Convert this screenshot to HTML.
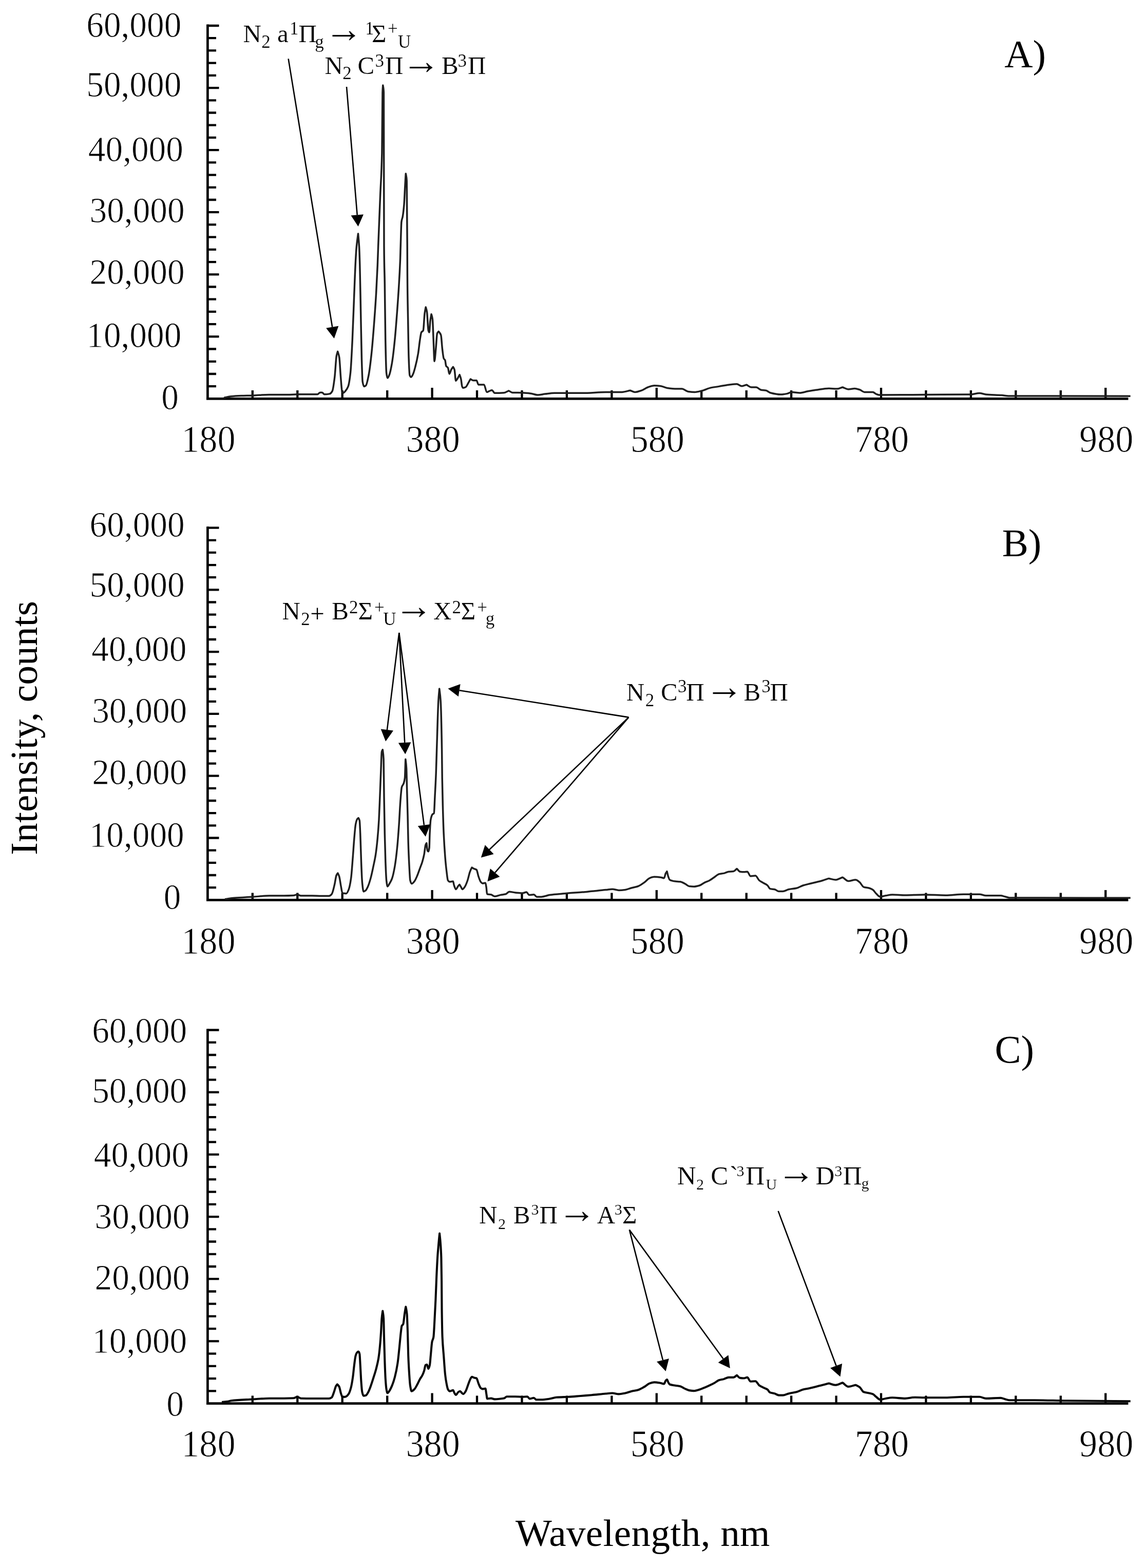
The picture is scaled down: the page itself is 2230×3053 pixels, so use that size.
<!DOCTYPE html>
<html lang="en"><head><meta charset="utf-8"><title>Emission spectra</title>
<style>html,body{margin:0;padding:0;background:#fff}svg{display:block}</style></head>
<body>
<svg width="2230" height="3053" viewBox="0 0 2230 3053" font-family='"Liberation Serif", "DejaVu Serif", serif' fill="#000">
<style>.t{stroke:#fff;stroke-width:0.9px;stroke-linejoin:round}.a{stroke:#fff;stroke-width:0.2px;stroke-linejoin:round}</style>
<rect width="2230" height="3053" fill="#fff"/>
<g id="panel-A">
<path d="M404.4,47.6V778.8M402,776.4H2197.4" stroke="#000" stroke-width="4.7" fill="none"/>
<path d="M404.4,50H426.5M404.4,74.2H421.0M404.4,98.4H421.0M404.4,122.6H421.0M404.4,146.9H421.0M404.4,171.1H426.5M404.4,195.3H421.0M404.4,219.5H421.0M404.4,243.7H421.0M404.4,267.9H421.0M404.4,292.1H426.5M404.4,316.3H421.0M404.4,340.6H421.0M404.4,364.8H421.0M404.4,389H421.0M404.4,413.2H426.5M404.4,437.4H421.0M404.4,461.6H421.0M404.4,485.8H421.0M404.4,510.1H421.0M404.4,534.3H426.5M404.4,558.5H421.0M404.4,582.7H421.0M404.4,606.9H421.0M404.4,631.1H421.0M404.4,655.3H426.5M404.4,679.5H421.0M404.4,703.8H421.0M404.4,728H421.0M404.4,752.2H421.0M491.8,776.4V760.1M579.3,776.4V760.1M666.7,776.4V760.1M754.2,776.4V760.1M841.6,776.4V754.9M929,776.4V760.1M1016.5,776.4V760.1M1103.9,776.4V760.1M1191.4,776.4V760.1M1278.8,776.4V754.9M1366.2,776.4V760.1M1453.7,776.4V760.1M1541.1,776.4V760.1M1628.6,776.4V760.1M1716,776.4V754.9M1803.4,776.4V760.1M1890.9,776.4V760.1M1978.3,776.4V760.1M2065.8,776.4V760.1M2153.2,776.4V754.9" stroke="#000" stroke-width="4.3" fill="none"/>
<path d="M436,774.5C440.7,773.6 445.3,772.2 450,771.8C456.7,771.2 463.3,770.9 470,770.6C477.3,770.3 484.7,770.3 492,770C502.7,769.6 513.3,768.4 524,768.4C536,768.4 548,768.6 560,768.6C566.3,768.6 572.7,767.8 579,767.8C586,767.8 593,767.8 600,767.8C606.1,767.8 612.1,767.8 618.2,767.8C620,767.8 621.8,764.2 623.6,764.2C624.8,764.2 626,764.2 627.2,764.2C628.7,764.2 630.3,767.8 631.8,767.8C635.1,767.8 638.5,767.5 641.8,766.9C643.6,766.6 645.4,764.6 647.2,761.5C648.7,758.8 650.3,746.4 651.8,734.2C653,724.7 654.2,698.8 655.4,692.5C656.2,688.5 656.9,686.6 657.7,684.3C658.7,687.6 659.8,689.9 660.8,696.1C661.7,701.7 662.7,723.2 663.6,734.2C664.5,744.8 665.4,760.2 666.3,762.4C666.9,763.9 667.5,765.1 668.1,765.1C669.6,765.1 671.1,763.1 672.6,761.5C674.4,759.5 676.3,757.3 678.1,752.4C679.6,748.4 681.1,738.8 682.6,725.2C683.8,714 685.1,686.8 686.3,661.6C687.5,637 688.7,600 689.9,570.8C690.8,548.9 691.7,523.5 692.6,507.2C693.2,496.3 693.8,486.5 694.4,480C695.4,468.8 696.5,462.1 697.5,455C698.2,462.1 698.8,468.2 699.5,480C699.9,487.7 700.4,501 700.8,516.3C701.4,537.5 702,576.8 702.6,607.1C703.2,637.4 703.8,677.7 704.4,697.9C705,718.1 705.6,739.6 706.2,743.3C707.1,749 708.1,752.4 709,752.4C710.2,752.4 711.4,751.6 712.6,750.6C714.4,749.1 716.2,739.6 718,730.6C719.8,721.5 721.7,705.7 723.5,688.8C725.3,672.2 727.1,649 728.9,625.3C730.1,609.1 731.4,592 732.6,570.8C733.5,555.3 734.4,537.8 735.3,516.3C735.7,506 736.2,491.5 736.6,480C737.9,444.5 739.3,413.2 740.6,380C741.7,352.6 742.8,347.5 743.9,298C744.3,281.5 744.6,190.6 745,180C745.3,172.3 745.5,170 745.8,166C746.3,170 746.9,169.3 747.4,180C747.6,184 747.8,457.7 748,480C748.4,528.3 748.9,524.5 749.3,552.6C749.8,582.9 750.2,638.6 750.7,661.6C751.3,691.2 751.9,719.9 752.5,725.2C753.2,731.7 754,736.1 754.7,736.1C755.8,736.1 756.9,733.2 758,730.6C759.8,726.4 761.6,717.3 763.4,707C765.2,696.5 767.1,679.7 768.9,661.6C770.4,646.8 771.9,627.1 773.4,607.1C774.6,590.7 775.9,573.6 777.1,552.6C777.9,539.5 778.6,527.2 779.4,507.2C779.7,500.2 779.9,488.3 780.2,480C780.8,462.3 781.3,436.5 781.9,432C782.7,425.7 783.5,426.1 784.3,421.5C785.2,416.3 786.1,409 787,398C787.6,390.3 788.3,372.9 788.9,361.6C789.4,353.3 789.8,344.7 790.3,338C790.9,342 791.6,342.3 792.2,352C792.5,357.1 792.9,416.9 793.2,480C793.3,492.6 793.3,525.8 793.4,534.5C793.8,590.8 794.3,599.5 794.7,625.3C795.2,653.1 795.6,685.1 796.1,697.9C796.7,714.4 797.3,729.1 797.9,730.6C798.8,733 799.8,734.2 800.7,734.2C801.9,734.2 803.1,731.2 804.3,728.8C805.8,725.8 807.3,720 808.8,714.3C810.6,707.4 812.5,699.5 814.3,688.8C815.5,681.8 816.7,669.1 817.9,661.6C818.8,656 819.7,648.7 820.6,647.1C821.8,644.9 823.1,645.8 824.3,643.4C825.2,641.7 826.1,617.8 827,610.8C827.7,605.1 828.5,601.6 829.2,598C830,600.6 830.7,602.5 831.5,607.1C832.4,612.7 833.4,640.3 834.3,643.4C834.9,645.4 835.5,647.1 836.1,647.1C836.7,647.1 837.3,630.3 837.9,625.3C838.6,619.2 839.4,615.6 840.1,611.7C840.9,614.5 841.6,615.9 842.4,621.6C843,626 843.6,648.3 844.2,661.6C844.8,675.6 845.5,703.4 846.1,703.4C847,703.4 847.9,688.7 848.8,679.8C849.7,670.9 850.6,651 851.5,648.9C852.4,646.8 853.3,646.3 854.2,645.3C855.7,647.3 857.3,648.1 858.8,652.5C859.7,655.1 860.6,672.5 861.5,679.8C862.4,687.1 863.3,695.9 864.2,697.9C865.1,699.9 866,699.5 866.9,701.5C867.5,702.9 868.2,711.2 868.8,712.4C870,714.7 871.2,714 872.4,716.1C873.3,717.6 874.2,727.9 875.1,727.9C876.3,727.9 877.6,721.9 878.8,719.7C880,717.6 881.2,715.8 882.4,714.3C883.3,715.8 884.2,716.8 885.1,719.7C886,722.6 886.9,741.5 887.8,741.5C888.7,741.5 889.7,739.3 890.6,737.9C892.1,735.7 893.6,732 895.1,729.7C896,732 896.9,734.1 897.8,737.9C898.5,741 899.3,750.5 900,752.4C900.6,753.9 901.2,755.3 901.8,755.3C903.6,755.3 905.4,754.5 907.2,753.5C908.7,752.6 910.3,748.8 911.8,746.2C913.3,743.7 914.8,740.4 916.3,738.1C918.1,738.9 920,740.8 921.8,740.8C923.9,740.8 926,740.8 928.1,740.8C929.3,740.8 930.6,748.9 931.8,748.9C935.4,748.9 939.1,748.9 942.7,748.9C944.5,748.9 946.3,763.5 948.1,763.5C949.6,763.5 951.1,762.3 952.6,761.7C954.4,761 956.3,759.8 958.1,759.8C959.9,759.8 961.7,765.3 963.5,765.3C969.6,765.3 975.6,765.1 981.7,764.7C984.7,764.5 987.8,761.9 990.8,760.8C993.2,761.8 995.6,764.3 998,764.4C1004.7,764.6 1011.3,764.5 1018,764.7C1023.5,764.8 1028.9,765.5 1034.4,766.2C1038.6,766.8 1042.9,768.9 1047.1,768.9C1051.9,768.9 1056.8,767.6 1061.6,767.1C1067.7,766.4 1073.7,765.3 1079.8,765.3C1087.7,765.3 1095.5,765.3 1103.4,765.3C1113.7,765.3 1123.9,765.3 1134.2,765.3C1149.5,765.3 1164.7,763.6 1180,763.5C1190.5,763.4 1201,763.5 1211.5,763.4C1216.7,763.4 1222,761.2 1227.2,760.3C1230.4,761.2 1233.5,763.4 1236.7,763.4C1240.9,763.4 1245,761.7 1249.2,760.3C1253.4,758.9 1257.6,755.4 1261.8,754C1266,752.6 1270.2,750.8 1274.4,750.8C1278.6,750.8 1282.8,751.3 1287,751.8C1291.2,752.3 1295.4,754.9 1299.6,755.5C1305.9,756.4 1312.2,757.1 1318.5,757.1C1321.6,757.1 1324.8,757.1 1327.9,757.1C1332.1,757.1 1336.3,762 1340.5,762.5C1344.7,763 1348.9,763.4 1353.1,763.4C1357.3,763.4 1361.5,762.1 1365.7,761.2C1372,759.8 1378.3,756.2 1384.6,754.9C1389.8,753.8 1395.1,753.3 1400.3,752.4C1406.6,751.4 1412.9,750 1419.2,749.2C1424.5,748.6 1429.7,747.7 1435,747.7C1438.1,747.7 1441.3,751.8 1444.4,751.8C1447.5,751.8 1450.7,749.9 1453.8,749.2C1457,750.6 1460.1,754 1463.3,754C1466.4,754 1469.6,754 1472.7,754C1475.9,754 1479,758.7 1482.2,759.3C1485.3,759.9 1488.5,759.8 1491.6,760.3C1494.8,760.9 1497.9,764.2 1501.1,765C1507.4,766.6 1513.7,768.1 1520,768.1C1524.2,768.1 1528.3,767.4 1532.5,766.6C1535.7,766 1538.8,763.4 1542,763.4C1547.2,763.4 1552.5,765 1557.7,765C1563,765 1568.2,762.7 1573.5,761.8C1578.7,760.9 1584,760 1589.2,759.3C1597.6,758.1 1606,756.2 1614.4,756.2C1619.6,756.2 1624.9,757.1 1630.1,757.1C1633.8,757.1 1637.4,754.9 1641.1,754C1644.8,755.2 1648.5,758.1 1652.2,758.1C1656.4,758.1 1660.5,756.5 1664.7,756.5C1667.9,756.5 1671,757.7 1674.2,758.7C1677.3,759.7 1680.5,763.4 1683.6,763.4C1689.1,763.4 1694.5,763.4 1700,763.4C1702,763.4 1704,766.1 1706,767C1708,767.9 1710,769 1712,769C1741.3,769 1770.7,768.7 1800,768.5C1830,768.3 1860,768.4 1890,768C1895.9,767.9 1901.8,765.5 1907.7,765.5C1911.8,765.5 1915.9,767.6 1920,768C1930.3,768.9 1940.7,768.8 1951,769.5C1955.3,769.8 1959.7,771 1964,771C2043.2,771.2 2122.4,771.1 2201.6,771.2" stroke="#1e1e1e" stroke-width="3.5" fill="none" stroke-linejoin="round" stroke-linecap="butt"/>
<text transform="translate(353.3,71.7) scale(1,1.05)" font-size="67.3" text-anchor="end" class="t">60,000</text>
<text transform="translate(353.3,188.3) scale(1,1.05)" font-size="67.3" text-anchor="end" class="t">50,000</text>
<text transform="translate(356.9,313.6) scale(1,1.05)" font-size="67.3" text-anchor="end" class="t">40,000</text>
<text transform="translate(359.6,432.7) scale(1,1.05)" font-size="67.3" text-anchor="end" class="t">30,000</text>
<text transform="translate(359.6,553.4) scale(1,1.05)" font-size="67.3" text-anchor="end" class="t">20,000</text>
<text transform="translate(353.3,676.2) scale(1,1.05)" font-size="67.3" text-anchor="end" class="t">10,000</text>
<text transform="translate(347.8,797.1) scale(1,1.05)" font-size="67.3" text-anchor="end" class="t">0</text>
<text transform="translate(405.9,879.7) scale(1,1.045)" font-size="70.2" text-anchor="middle" class="t">180</text>
<text transform="translate(843.1,879.7) scale(1,1.045)" font-size="70.2" text-anchor="middle" class="t">380</text>
<text transform="translate(1280.3,879.7) scale(1,1.045)" font-size="70.2" text-anchor="middle" class="t">580</text>
<text transform="translate(1717.5,879.7) scale(1,1.045)" font-size="70.2" text-anchor="middle" class="t">780</text>
<text transform="translate(2154.7,879.7) scale(1,1.045)" font-size="70.2" text-anchor="middle" class="t">980</text>
<text x="1956.3" y="130.5" font-size="76.5" text-anchor="start">A)</text>
</g>
<g id="panel-B">
<path d="M404.4,1025.2V1754.6M402,1752.3H2197.4" stroke="#000" stroke-width="4.7" fill="none"/>
<path d="M404.4,1027.6H426.5M404.4,1051.8H421.0M404.4,1075.9H421.0M404.4,1100.1H421.0M404.4,1124.2H421.0M404.4,1148.4H426.5M404.4,1172.5H421.0M404.4,1196.7H421.0M404.4,1220.9H421.0M404.4,1245H421.0M404.4,1269.2H426.5M404.4,1293.3H421.0M404.4,1317.5H421.0M404.4,1341.6H421.0M404.4,1365.8H421.0M404.4,1389.9H426.5M404.4,1414.1H421.0M404.4,1438.3H421.0M404.4,1462.4H421.0M404.4,1486.6H421.0M404.4,1510.7H426.5M404.4,1534.9H421.0M404.4,1559H421.0M404.4,1583.2H421.0M404.4,1607.4H421.0M404.4,1631.5H426.5M404.4,1655.7H421.0M404.4,1679.8H421.0M404.4,1704H421.0M404.4,1728.1H421.0M491.8,1752.3V1738.4M579.3,1752.3V1738.4M666.7,1752.3V1738.4M754.2,1752.3V1738.4M841.6,1752.3V1733.1M929,1752.3V1738.4M1016.5,1752.3V1738.4M1103.9,1752.3V1738.4M1191.4,1752.3V1738.4M1278.8,1752.3V1733.1M1366.2,1752.3V1738.4M1453.7,1752.3V1738.4M1541.1,1752.3V1738.4M1628.6,1752.3V1738.4M1716,1752.3V1733.1M1803.4,1752.3V1738.4M1890.9,1752.3V1738.4M1978.3,1752.3V1738.4M2065.8,1752.3V1738.4M2153.2,1752.3V1733.1" stroke="#000" stroke-width="4.3" fill="none"/>
<path d="M438,1750.8C440.7,1750.4 443.3,1750 446,1749.6C448.5,1749.2 451.1,1748.7 453.6,1748.5C459.6,1748 465.7,1747.7 471.7,1747.4C478.4,1747 485,1746.7 491.7,1746.3C502.6,1745.6 513.5,1744.1 524.4,1744.1C534.1,1744.1 543.7,1744.1 553.4,1744.1C559.5,1744.1 565.5,1743.9 571.6,1743.6C574,1743.5 576.5,1741.8 578.9,1741.8C581.3,1741.8 583.7,1744.1 586.1,1744.1C593.4,1744.1 600.6,1744.1 607.9,1744.1C614,1744.1 620,1744.5 626.1,1744.5C630.9,1744.5 635.8,1744.5 640.6,1744.5C642.4,1744.5 644.3,1742.9 646.1,1740.8C647.9,1738.8 649.7,1730.1 651.5,1722.7C652.7,1717.8 653.9,1707.4 655.1,1704.5C656,1702.3 657,1701.3 657.9,1700C658.8,1701.8 659.7,1703.4 660.6,1706.3C661.8,1710.2 663,1720.2 664.2,1726.3C665.1,1730.9 666,1738.8 666.9,1739C668.1,1739.3 669.4,1739.3 670.6,1739.4C671.9,1739.5 673.2,1739.7 674.5,1739.7C676,1739.7 677.5,1736 679,1732.4C680.5,1728.7 682.1,1721.1 683.6,1710.6C684.8,1702.4 686,1683.8 687.2,1668.8C688.1,1657.5 689,1642.9 689.9,1632.5C690.8,1622.1 691.7,1610.1 692.6,1605.3C693.5,1600.4 694.5,1596.8 695.4,1595.3C696.3,1593.9 697.2,1593.4 698.1,1592.6C698.8,1594.1 699.6,1594.6 700.3,1598C700.8,1600.1 701.2,1612.9 701.7,1623.4C702.3,1636.9 702.9,1663 703.5,1677.9C704.1,1693.7 704.8,1711.3 705.4,1717.9C706.3,1727.3 707.2,1736 708.1,1736C709.3,1736 710.5,1735.1 711.7,1734.2C713.2,1733.1 714.7,1730 716.2,1726.9C718,1723.1 719.9,1717.1 721.7,1710.6C723.5,1704.2 725.3,1695.5 727.1,1687C728.6,1679.7 730.2,1673.3 731.7,1663.4C732.9,1655.6 734.1,1645.2 735.3,1632.5C736.2,1623 737.1,1611.9 738,1596.2C738.6,1585.1 739.3,1566.3 739.9,1550.8C740.5,1536.1 741.1,1519.9 741.7,1505.4C742.3,1490.9 742.9,1466 743.5,1463.6C744.1,1461.2 744.7,1460.8 745.3,1459.7C745.9,1464.9 746.5,1466.2 747.1,1478.2C747.4,1484.2 747.7,1530.8 748,1550.8C748.4,1579.7 748.9,1604.2 749.3,1623.4C749.8,1645.5 750.3,1664.8 750.8,1677.9C751.4,1693.6 752,1708.8 752.6,1714.2C753.3,1720.4 754,1726 754.7,1726C755.8,1726 756.9,1723.3 758,1721.5C759.8,1718.6 761.7,1715.6 763.5,1710.6C765.3,1705.7 767.1,1697.2 768.9,1687C770.4,1678.3 772,1665.7 773.5,1650.7C774.7,1638.9 775.9,1622.7 777.1,1605.3C778,1592.2 778.9,1571.3 779.8,1559.9C780.7,1548.5 781.6,1535.6 782.5,1532.6C783.7,1528.4 785,1528.9 786.2,1525.4C787,1523.2 787.7,1521.1 788.5,1514.5C788.9,1510.7 789.4,1488.5 789.8,1478.2C790.4,1483.3 791,1486 791.6,1496.3C791.9,1501.5 792.2,1521.1 792.5,1532.6C793,1551.8 793.5,1566.8 794,1587.1C794.4,1603.3 794.8,1628.8 795.2,1641.6C795.8,1661.9 796.5,1675.3 797.1,1687C797.7,1698.1 798.3,1711.6 798.9,1714.2C799.8,1718.1 800.7,1720.6 801.6,1720.6C803.4,1720.6 805.2,1718.2 807,1716.1C808.8,1714 810.7,1709.4 812.5,1705.2C814.3,1701.1 816.1,1695.5 817.9,1690.6C819.4,1686.4 821,1683 822.5,1677.9C823.7,1673.9 824.9,1669.5 826.1,1663.4C827,1658.8 827.9,1647.8 828.8,1645.2C829.4,1643.4 830.1,1642.6 830.7,1641.6C831.3,1645.7 831.9,1655 832.5,1656.1C833.1,1657.2 833.7,1657.9 834.3,1657.9C834.9,1657.9 835.5,1655.3 836.1,1650.7C836.4,1648.4 836.7,1629.7 837,1623.4C837.6,1610.8 838.2,1599.4 838.8,1596.2C840,1589.6 841.3,1586.6 842.5,1585.3C843.4,1584.4 844.3,1584.7 845.2,1583.5C845.8,1582.7 846.4,1562.4 847,1550.8C847.7,1536.7 848.5,1524.2 849.2,1505.4C849.7,1493.4 850.1,1474.5 850.6,1460C851.7,1426.7 852.7,1383.3 853.8,1365C854.4,1354.1 855.1,1347.8 855.7,1341C856.5,1347.8 857.4,1352.1 858.2,1365C859,1377.4 859.8,1412.1 860.6,1460C860.8,1472 861,1501.9 861.2,1514.5C861.6,1539.7 862,1554.3 862.4,1569C863,1591.1 863.6,1610.5 864.2,1623.4C865.1,1643.5 866.1,1657.2 867,1668.8C867.9,1680 868.8,1688.8 869.7,1696.1C870.6,1703.4 871.5,1712.9 872.4,1714.2C873.6,1715.9 874.9,1717 876.1,1717C878.2,1717 880.3,1716.1 882.4,1716.1C883,1716.1 883.6,1721.5 884.2,1723.3C885.4,1726.9 886.7,1731.5 887.9,1731.5C889.4,1731.5 890.9,1726.8 892.4,1725.1C893.3,1724.1 894.2,1723.2 895.1,1722.4C896,1723.7 896.9,1725.4 897.8,1726.9C898.7,1728.4 899.7,1731.5 900.6,1731.5C902.1,1731.5 903.6,1729 905.1,1726.9C906.9,1724.3 908.8,1719.4 910.6,1714.2C912.1,1709.9 913.6,1702.1 915.1,1697.9C916.4,1694.3 917.7,1691.5 919,1689C920.5,1689.8 922.1,1691 923.6,1691.7C925.1,1692.4 926.6,1692.4 928.1,1693.5C929.3,1694.4 930.6,1702.7 931.8,1706.2C933.3,1710.5 934.8,1715.4 936.3,1717.1C937.5,1718.5 938.7,1719.9 939.9,1719.9C941.7,1719.9 943.6,1719 945.4,1719C946,1719 946.6,1724.1 947.2,1728C947.7,1731.1 948.1,1740.7 948.6,1740.8C951.2,1741.6 953.7,1741.2 956.3,1741.7C958.7,1742.2 961.1,1745.3 963.5,1745.3C967.1,1745.3 970.8,1743.3 974.4,1742.6C978,1741.9 981.7,1741.8 985.3,1740.8C987.4,1740.2 989.6,1736.2 991.7,1736.2C995.6,1736.2 999.6,1737.6 1003.5,1738C1008.3,1738.4 1013.2,1738.9 1018,1738.9C1020.4,1738.9 1022.9,1737.1 1025.3,1737.1C1027.1,1737.1 1028.9,1742.6 1030.7,1742.6C1033.7,1742.6 1036.8,1741.7 1039.8,1741.7C1041.6,1741.7 1043.5,1746.2 1045.3,1746.2C1048.3,1746.2 1051.3,1746.2 1054.3,1746.2C1059.8,1746.2 1065.2,1743.4 1070.7,1742.6C1076.7,1741.8 1082.8,1741.4 1088.8,1740.8C1094.9,1740.2 1100.9,1739.4 1107,1738.9C1116.1,1738.2 1125.1,1737.8 1134.2,1737.1C1140.3,1736.6 1146.3,1735.9 1152.4,1735.3C1161.6,1734.4 1170.8,1733.6 1180,1732.6C1184.2,1732.2 1188.4,1731.2 1192.6,1731.2C1196.8,1731.2 1201,1733.4 1205.2,1733.4C1209.4,1733.4 1213.6,1733 1217.8,1732.5C1222,1732 1226.2,1729.9 1230.4,1728.7C1234.6,1727.5 1238.8,1727 1243,1725.5C1247.2,1724 1251.3,1720.7 1255.5,1717.7C1258.7,1715.4 1261.8,1711.1 1265,1709.8C1268.1,1708.5 1271.3,1707.3 1274.4,1707.3C1278.6,1707.3 1282.8,1707.7 1287,1708.2C1289.1,1708.4 1291.2,1709.8 1293.3,1709.8C1294.4,1709.8 1295.4,1702.5 1296.5,1700.4C1297.3,1698.8 1298.2,1697.7 1299,1696.6C1299.8,1699.5 1300.7,1704.3 1301.5,1706.7C1302.4,1709.4 1303.4,1712.5 1304.3,1713C1308,1715.2 1311.7,1715.7 1315.4,1716.1C1318.5,1716.4 1321.7,1716.4 1324.8,1716.7C1327.9,1717 1331.1,1719.2 1334.2,1720.8C1336.8,1722.1 1339.5,1725.1 1342.1,1725.5C1345.2,1725.9 1348.4,1726.2 1351.5,1726.2C1355.2,1726.2 1358.9,1725.1 1362.6,1724C1365.7,1723.1 1368.9,1720.1 1372,1718.6C1375.2,1717 1378.3,1716.2 1381.5,1714.5C1384.6,1712.9 1387.8,1710.3 1390.9,1708.2C1394,1706.1 1397.2,1702.7 1400.3,1701.9C1403.5,1701.1 1406.6,1701.1 1409.8,1700.4C1412.9,1699.7 1416.1,1697.5 1419.2,1697.2C1422.4,1696.9 1425.5,1697 1428.7,1696.6C1430.8,1696.3 1432.9,1692.9 1435,1691.5C1437.1,1693.1 1439.2,1696.9 1441.3,1697.2C1443.9,1697.6 1446.5,1697.8 1449.1,1697.8C1451.2,1697.8 1453.3,1697.2 1455.4,1697.2C1457.5,1697.2 1459.6,1706 1461.7,1706C1464.9,1706 1468,1705.1 1471.2,1705.1C1473.8,1705.1 1476.4,1712.4 1479,1714.5C1481.6,1716.6 1484.3,1717.6 1486.9,1719.2C1489.5,1720.8 1492.2,1721.7 1494.8,1724C1496.4,1725.4 1497.9,1729.8 1499.5,1730.3C1502.6,1731.3 1505.8,1731 1508.9,1731.8C1511.5,1732.4 1514.2,1735.6 1516.8,1735.6C1519.4,1735.6 1522.1,1735.6 1524.7,1735.6C1528.4,1735.6 1532,1732.6 1535.7,1731.8C1540.9,1730.6 1546.2,1730.5 1551.4,1729.3C1555.6,1728.3 1559.8,1725.3 1564,1724C1568.2,1722.7 1572.4,1721.8 1576.6,1720.8C1580.8,1719.8 1585,1718.7 1589.2,1717.7C1593.4,1716.7 1597.6,1715.7 1601.8,1714.5C1606,1713.3 1610.2,1711.6 1614.4,1710.4C1618.6,1711.1 1622.8,1713 1627,1713C1631.7,1713 1636.4,1709.6 1641.1,1708.2C1644.8,1710.3 1648.5,1715.5 1652.2,1715.5C1656.9,1715.5 1661.6,1713 1666.3,1713C1668.9,1713 1671.6,1715.6 1674.2,1717.7C1676.8,1719.8 1679.5,1726.2 1682.1,1727.1C1685.8,1728.4 1689.4,1728.2 1693.1,1729.3C1695.4,1730 1697.7,1731 1700,1732.5C1702.1,1733.9 1704.2,1737.7 1706.3,1739.7C1708.9,1742.2 1711.6,1746 1714.2,1746C1717.9,1746 1721.5,1744.4 1725.2,1743.8C1729.4,1743.1 1733.6,1741.9 1737.8,1741.9C1746.2,1741.9 1754.6,1742.9 1763,1742.9C1775.6,1742.9 1788.1,1741.9 1800.7,1741.9C1814.3,1741.9 1828,1743.2 1841.6,1743.2C1853.2,1743.2 1864.7,1741.3 1876.3,1741.3C1886.8,1741.3 1897.2,1741.3 1907.7,1741.3C1911.9,1741.3 1916.1,1743.8 1920.3,1743.8C1929.8,1743.8 1939.2,1743.8 1948.7,1743.8C1951.8,1743.8 1955,1745.3 1958.1,1746C1960.7,1746.6 1963.4,1747.9 1966,1747.9C1982.3,1748.1 1998.5,1748.1 2014.8,1748.1C2077.1,1748.2 2139.4,1748.2 2201.7,1748.2" stroke="#1e1e1e" stroke-width="3.5" fill="none" stroke-linejoin="round" stroke-linecap="butt"/>
<text transform="translate(359.6,1045.3) scale(1,1.05)" font-size="67.3" text-anchor="end" class="t">60,000</text>
<text transform="translate(359.6,1162) scale(1,1.05)" font-size="67.3" text-anchor="end" class="t">50,000</text>
<text transform="translate(363.3,1287.3) scale(1,1.05)" font-size="67.3" text-anchor="end" class="t">40,000</text>
<text transform="translate(364.2,1406.5) scale(1,1.05)" font-size="67.3" text-anchor="end" class="t">30,000</text>
<text transform="translate(364.2,1526.6) scale(1,1.05)" font-size="67.3" text-anchor="end" class="t">20,000</text>
<text transform="translate(358.7,1649.1) scale(1,1.05)" font-size="67.3" text-anchor="end" class="t">10,000</text>
<text transform="translate(352.4,1770.3) scale(1,1.05)" font-size="67.3" text-anchor="end" class="t">0</text>
<text transform="translate(405.9,1857.1) scale(1,1.045)" font-size="70.2" text-anchor="middle" class="t">180</text>
<text transform="translate(843.1,1857.1) scale(1,1.045)" font-size="70.2" text-anchor="middle" class="t">380</text>
<text transform="translate(1280.3,1857.1) scale(1,1.045)" font-size="70.2" text-anchor="middle" class="t">580</text>
<text transform="translate(1717.5,1857.1) scale(1,1.045)" font-size="70.2" text-anchor="middle" class="t">780</text>
<text transform="translate(2154.7,1857.1) scale(1,1.045)" font-size="70.2" text-anchor="middle" class="t">980</text>
<text x="1951.7" y="1083" font-size="76.5" text-anchor="start">B)</text>
</g>
<g id="panel-C">
<path d="M404.4,2003.2V2734.9M402,2732.6H2197.4" stroke="#000" stroke-width="4.7" fill="none"/>
<path d="M404.4,2005.5H426.5M404.4,2029.7H421.0M404.4,2054H421.0M404.4,2078.2H421.0M404.4,2102.4H421.0M404.4,2126.7H426.5M404.4,2150.9H421.0M404.4,2175.2H421.0M404.4,2199.4H421.0M404.4,2223.6H421.0M404.4,2247.9H426.5M404.4,2272.1H421.0M404.4,2296.3H421.0M404.4,2320.6H421.0M404.4,2344.8H421.0M404.4,2369.1H426.5M404.4,2393.3H421.0M404.4,2417.5H421.0M404.4,2441.8H421.0M404.4,2466H421.0M404.4,2490.2H426.5M404.4,2514.5H421.0M404.4,2538.7H421.0M404.4,2562.9H421.0M404.4,2587.2H421.0M404.4,2611.4H426.5M404.4,2635.7H421.0M404.4,2659.9H421.0M404.4,2684.1H421.0M404.4,2708.4H421.0M491.8,2732.6V2717.5M579.3,2732.6V2717.5M666.7,2732.6V2717.5M754.2,2732.6V2717.5M841.6,2732.6V2712.6M929,2732.6V2717.5M1016.5,2732.6V2717.5M1103.9,2732.6V2717.5M1191.4,2732.6V2717.5M1278.8,2732.6V2712.6M1366.2,2732.6V2717.5M1453.7,2732.6V2717.5M1541.1,2732.6V2717.5M1628.6,2732.6V2717.5M1716,2732.6V2712.6M1803.4,2732.6V2717.5M1890.9,2732.6V2717.5M1978.3,2732.6V2717.5M2065.8,2732.6V2717.5M2153.2,2732.6V2712.6" stroke="#000" stroke-width="4.3" fill="none"/>
<path d="M432,2730C436.3,2729.5 440.7,2729.2 445,2728.5C446.6,2728.2 448.3,2727.4 449.9,2727.2C463.8,2725.5 477.8,2725.3 491.7,2724.5C502.6,2723.9 513.5,2722.7 524.4,2722.7C534.1,2722.7 543.7,2722.7 553.4,2722.7C559.5,2722.7 565.5,2722.6 571.6,2722.3C574,2722.2 576.5,2719.9 578.9,2719.9C581.3,2719.9 583.7,2722.6 586.1,2722.7C593.4,2722.9 600.6,2723 607.9,2723C618.8,2723 629.7,2723 640.6,2723C642.4,2723 644.3,2722.1 646.1,2720.8C647.6,2719.7 649.1,2714 650.6,2710C651.8,2706.8 653,2701.3 654.2,2699.1C655.1,2697.4 656,2696.4 656.9,2695.4C658.1,2696.7 659.4,2697.7 660.6,2700C661.8,2702.3 663,2710.2 664.2,2713.6C665.1,2716.2 666,2719.9 666.9,2719.9C668.1,2719.9 669.4,2719.9 670.6,2719.9C671.9,2719.9 673.2,2719.4 674.5,2718.8C676,2718.1 677.5,2716.4 679,2714.2C680.5,2711.9 682.1,2707.2 683.6,2701.5C684.8,2697 686,2689.7 687.2,2681.5C688.1,2675.3 689,2664.7 689.9,2657.9C690.8,2651.1 691.7,2642.9 692.6,2639.8C693.5,2636.6 694.5,2634.4 695.4,2633.4C696.3,2632.5 697.2,2631.6 698.1,2631.6C698.8,2631.6 699.6,2633.3 700.3,2636.1C700.8,2637.9 701.2,2650.1 701.7,2657.9C702.3,2667.9 702.9,2682.6 703.5,2690.6C704.1,2699.1 704.8,2707.8 705.4,2710.6C706.3,2714.6 707.2,2717.8 708.1,2717.8C709.6,2717.8 711.1,2717.4 712.6,2716.9C714.1,2716.4 715.7,2713.3 717.2,2710.6C718.7,2708 720.2,2703.7 721.7,2699.7C723.5,2694.9 725.3,2689 727.1,2683.3C728.9,2677.5 730.8,2672.2 732.6,2665.2C734.1,2659.5 735.6,2654.1 737.1,2645.2C738,2639.6 739,2631.2 739.9,2621.6C740.6,2614.4 741.3,2605.1 742,2594.4C742.5,2586.8 743,2572.8 743.5,2567.1C744.1,2560.3 744.7,2556.7 745.3,2552.6C745.9,2556.7 746.5,2558.4 747.1,2567.1C747.4,2571.5 747.7,2592.1 748,2603.4C748.4,2619.7 748.9,2636.3 749.3,2648.8C749.8,2663.2 750.3,2677.5 750.8,2685.2C751.4,2694.4 752,2701.9 752.6,2705.1C753.3,2708.9 754,2712.4 754.7,2712.4C755.8,2712.4 756.9,2710.3 758,2708.8C759.8,2706.3 761.7,2702.3 763.5,2697.9C765.3,2693.6 767.1,2688.3 768.9,2681.5C770.7,2674.6 772.6,2666.3 774.4,2654.3C775.6,2646.5 776.8,2633.1 778,2621.6C778.9,2613 779.8,2601.8 780.7,2594.4C781.3,2589.5 781.9,2583 782.5,2581.6C783.4,2579.5 784.4,2580.1 785.3,2578C786.2,2576 787.1,2563.9 788,2558C788.8,2553 789.5,2548.3 790.3,2544.4C791,2548.3 791.8,2550.5 792.5,2558C793,2563.1 793.5,2579.5 794,2594.4C794.4,2606.3 794.8,2629.4 795.2,2639.8C795.8,2656.3 796.5,2666.7 797.1,2676.1C797.7,2685 798.3,2694.1 798.9,2697.9C799.8,2703.5 800.7,2708.8 801.6,2708.8C803.4,2708.8 805.2,2706.8 807,2705.1C808.8,2703.3 810.7,2699.4 812.5,2696.1C814.3,2692.8 816.1,2688.4 817.9,2685.2C819.4,2682.5 821,2680.9 822.5,2677.9C823.7,2675.5 824.9,2672.6 826.1,2668.8C827,2666 827.9,2658.4 828.8,2657.9C829.7,2657.3 830.7,2657 831.6,2657C832.5,2657 833.4,2665.2 834.3,2665.2C835.2,2665.2 836.1,2661.9 837,2657.9C837.6,2655.2 838.2,2645.8 838.8,2639.8C839.7,2630.7 840.6,2616.9 841.5,2612.5C842.4,2607.9 843.4,2608.6 844.3,2603.4C844.9,2600 845.5,2586.4 846.1,2576.2C846.9,2563.1 847.6,2547.9 848.4,2530.8C849,2517.4 849.6,2498.5 850.2,2485.4C850.9,2470.1 851.6,2455.4 852.3,2445C852.9,2435.6 853.6,2429.2 854.2,2422C854.8,2414.8 855.5,2407.4 856.1,2401.6C856.7,2407.4 857.4,2413.1 858,2422C858.5,2428.5 858.9,2434.2 859.4,2449C859.6,2456.4 859.9,2473.3 860.1,2494.5C860.2,2506.6 860.4,2538.6 860.5,2549C860.9,2577.7 861.2,2594.7 861.6,2603.4C862.5,2623.9 863.3,2628.1 864.2,2639.8C865.1,2652.4 866.1,2667.9 867,2676.1C867.9,2684 868.8,2689.7 869.7,2694.2C870.6,2698.7 871.5,2703.6 872.4,2705.1C873.6,2707.1 874.9,2708.8 876.1,2708.8C878.2,2708.8 880.3,2706.9 882.4,2706.9C883.3,2706.9 884.2,2711 885.1,2712.4C886,2713.9 887,2716 887.9,2716C889.4,2716 890.9,2711.6 892.4,2710.6C893.6,2709.8 894.8,2708.8 896,2708.8C897.2,2708.8 898.5,2711.4 899.7,2712.4C900.6,2713.1 901.5,2714.2 902.4,2714.2C903.9,2714.2 905.4,2711.2 906.9,2708.8C908.7,2705.8 910.6,2698.8 912.4,2694.2C913.9,2690.4 915.4,2685.6 916.9,2683.3C917.6,2682.2 918.3,2680.8 919,2680.8C920.5,2680.8 922.1,2682.2 923.6,2682.6C925.1,2683 926.6,2682.9 928.1,2683.5C929.3,2684 930.6,2690.6 931.8,2693.5C933.3,2697 934.8,2701.4 936.3,2702.6C937.5,2703.5 938.7,2704.4 939.9,2704.4C941.7,2704.4 943.6,2703.5 945.4,2703.5C946,2703.5 946.6,2710.2 947.2,2713.5C947.8,2716.8 948.4,2723.5 949,2723.5C951.4,2723.5 953.9,2722.6 956.3,2722.6C958.7,2722.6 961.1,2724.4 963.5,2724.4C967.1,2724.4 970.8,2723.9 974.4,2723.5C976.8,2723.3 979.3,2723.1 981.7,2722.6C983.5,2722.2 985.3,2719.3 987.1,2719.3C992.6,2719.3 998,2719.3 1003.5,2719.3C1008.3,2719.3 1013.2,2719.8 1018,2719.8C1021,2719.8 1024.1,2719.3 1027.1,2719.3C1028.6,2719.3 1030.1,2723.5 1031.6,2723.5C1034.3,2723.5 1037.1,2721.7 1039.8,2721.7C1041.3,2721.7 1042.8,2725.3 1044.3,2725.3C1047.6,2725.3 1051,2725.3 1054.3,2725.3C1059.8,2725.3 1065.2,2724.3 1070.7,2723.5C1074.9,2722.9 1079.2,2721.1 1083.4,2720.8C1091.3,2720.2 1099.1,2720.2 1107,2719.8C1114.9,2719.4 1122.7,2718.6 1130.6,2718C1137.9,2717.4 1145.1,2716.8 1152.4,2716.2C1161.6,2715.4 1170.8,2714.3 1180,2713.5C1184.2,2713.1 1188.4,2712.5 1192.6,2712.5C1196.8,2712.5 1201,2714.4 1205.2,2714.4C1209.4,2714.4 1213.6,2713.3 1217.8,2712.5C1222,2711.7 1226.2,2709.7 1230.4,2708.7C1234.6,2707.7 1238.8,2707.4 1243,2706.2C1247.2,2705 1251.3,2702.3 1255.5,2699.9C1258.7,2698.1 1261.8,2694.7 1265,2693.6C1268.1,2692.5 1271.3,2691.4 1274.4,2691.4C1278.6,2691.4 1282.8,2692.3 1287,2693C1289.1,2693.4 1291.2,2694.5 1293.3,2694.5C1294.4,2694.5 1295.4,2689.5 1296.5,2688.2C1297.3,2687.2 1298.2,2686 1299,2686C1299.8,2686 1300.7,2689.9 1301.5,2691.4C1302.4,2693 1303.4,2695.1 1304.3,2695.5C1308,2697 1311.7,2697 1315.4,2697.7C1318.5,2698.3 1321.7,2698.4 1324.8,2699.2C1327.9,2700 1331.1,2702.6 1334.2,2704C1336.8,2705.2 1339.5,2706.7 1342.1,2707.1C1345.2,2707.6 1348.4,2708.1 1351.5,2708.1C1355.2,2708.1 1358.9,2706.6 1362.6,2705.5C1365.7,2704.6 1368.9,2703.1 1372,2701.8C1375.2,2700.5 1378.3,2699.2 1381.5,2697.7C1384.6,2696.2 1387.8,2694.7 1390.9,2693C1394,2691.3 1397.2,2688.4 1400.3,2687.3C1403.5,2686.2 1406.6,2686 1409.8,2685.1C1412.9,2684.2 1416.1,2681.9 1419.2,2681.9C1422.4,2681.9 1425.5,2681.9 1428.7,2681.9C1430.8,2681.9 1432.9,2679 1435,2677.8C1437.1,2679.2 1439.2,2682.6 1441.3,2682.9C1443.9,2683.3 1446.5,2683.5 1449.1,2683.5C1451.2,2683.5 1453.3,2681.9 1455.4,2681.9C1457.5,2681.9 1459.6,2689.8 1461.7,2689.8C1464.9,2689.8 1468,2689.2 1471.2,2689.2C1473.8,2689.2 1476.4,2695.9 1479,2697.7C1481.6,2699.6 1484.3,2700.5 1486.9,2701.8C1489.5,2703.1 1492.2,2703.7 1494.8,2705.5C1496.4,2706.6 1497.9,2710.5 1499.5,2711.2C1502.6,2712.5 1505.8,2712.5 1508.9,2713.4C1511.5,2714.2 1514.2,2716.6 1516.8,2716.6C1519.4,2716.6 1522.1,2716.6 1524.7,2716.6C1528.4,2716.6 1532,2714.3 1535.7,2713.4C1540.9,2712.2 1546.2,2711.7 1551.4,2710.3C1555.6,2709.2 1559.8,2706.6 1564,2705.5C1568.2,2704.4 1572.4,2703.9 1576.6,2703C1580.8,2702.1 1585,2700.9 1589.2,2699.9C1593.4,2698.9 1597.6,2697.7 1601.8,2696.7C1606,2695.7 1610.2,2694.5 1614.4,2693.6C1618.6,2694.5 1622.8,2696.7 1627,2696.7C1631.7,2696.7 1636.4,2693.5 1641.1,2692.3C1644.8,2694.5 1648.5,2699.9 1652.2,2699.9C1656.9,2699.9 1661.6,2697.6 1666.3,2696.7C1668.9,2697.9 1671.6,2698.9 1674.2,2700.8C1676.8,2702.7 1679.5,2709.4 1682.1,2710.3C1685.8,2711.6 1689.4,2711.6 1693.1,2712.5C1695.4,2713 1697.7,2713.4 1700,2714.4C1702.1,2715.3 1704.2,2718.1 1706.3,2719.7C1708.9,2721.7 1711.6,2725.1 1714.2,2725.1C1717.9,2725.1 1721.5,2723.5 1725.2,2722.9C1729.4,2722.2 1733.6,2721.3 1737.8,2721.3C1746.2,2721.3 1754.6,2722.9 1763,2722.9C1769.3,2722.9 1775.5,2720.7 1781.8,2720.7C1788.1,2720.7 1794.4,2721.3 1800.7,2721.3C1814.3,2721.3 1828,2721.3 1841.6,2721.3C1853.2,2721.3 1864.7,2719.7 1876.3,2719.7C1886.8,2719.7 1897.2,2719.7 1907.7,2719.7C1911.9,2719.7 1916.1,2722.9 1920.3,2722.9C1929.8,2722.9 1939.2,2721.9 1948.7,2721.9C1951.8,2721.9 1955,2723.6 1958.1,2724.4C1960.7,2725.1 1963.4,2726.3 1966,2726.3C1982.3,2726.3 1998.5,2726.3 2014.8,2726.3C2035.8,2726.3 2056.7,2727.1 2077.7,2727.3C2119,2727.7 2160.4,2727.9 2201.7,2728.2" stroke="#080808" stroke-width="4.1" fill="none" stroke-linejoin="round" stroke-linecap="butt"/>
<text transform="translate(364.2,2030.3) scale(1,1.05)" font-size="67.3" text-anchor="end" class="t">60,000</text>
<text transform="translate(364.2,2147) scale(1,1.05)" font-size="67.3" text-anchor="end" class="t">50,000</text>
<text transform="translate(367.8,2272.3) scale(1,1.05)" font-size="67.3" text-anchor="end" class="t">40,000</text>
<text transform="translate(369.6,2392) scale(1,1.05)" font-size="67.3" text-anchor="end" class="t">30,000</text>
<text transform="translate(369.6,2511.1) scale(1,1.05)" font-size="67.3" text-anchor="end" class="t">20,000</text>
<text transform="translate(364.2,2633.7) scale(1,1.05)" font-size="67.3" text-anchor="end" class="t">10,000</text>
<text transform="translate(357.8,2756.7) scale(1,1.05)" font-size="67.3" text-anchor="end" class="t">0</text>
<text transform="translate(405.9,2836) scale(1,1.045)" font-size="70.2" text-anchor="middle" class="t">180</text>
<text transform="translate(843.1,2836) scale(1,1.045)" font-size="70.2" text-anchor="middle" class="t">380</text>
<text transform="translate(1280.3,2836) scale(1,1.045)" font-size="70.2" text-anchor="middle" class="t">580</text>
<text transform="translate(1717.5,2836) scale(1,1.045)" font-size="70.2" text-anchor="middle" class="t">780</text>
<text transform="translate(2154.7,2836) scale(1,1.045)" font-size="70.2" text-anchor="middle" class="t">980</text>
<text x="1937.5" y="2069" font-size="76.5" text-anchor="start">C)</text>
</g>
<text transform="translate(71.6,1665) rotate(-90)" font-size="75" letter-spacing="0.25">Intensity, counts</text>
<text x="1251.9" y="3010" font-size="75" text-anchor="middle" letter-spacing="0.45">Wavelength, nm</text>
<text class="a"><tspan x="473.4" y="81.5" font-size="49">N</tspan><tspan x="509.3" y="92.5" font-size="35">2 </tspan><tspan x="539.9" y="81.5" font-size="49">a</tspan><tspan x="563.9" y="67" font-size="35">1</tspan><tspan x="581.5" y="81.5" font-size="49">Π</tspan><tspan x="613.2" y="92.5" font-size="35">g </tspan><tspan x="632.2" y="81.7" font-size="75">→ </tspan><tspan x="711.1" y="67" font-size="35">1</tspan><tspan x="724" y="81.5" font-size="49">Σ</tspan><tspan x="754.9" y="67" font-size="35">+</tspan><tspan x="775" y="92.5" font-size="35">U</tspan></text>
<text class="a"><tspan x="632.4" y="143.6" font-size="49">N</tspan><tspan x="667.2" y="153.6" font-size="35">2 </tspan><tspan x="696.4" y="143.6" font-size="49">C</tspan><tspan x="730.6" y="130.3" font-size="35">3</tspan><tspan x="750" y="143.6" font-size="49">Π </tspan><tspan x="782.7" y="143.8" font-size="75">→ </tspan><tspan x="860.1" y="143.6" font-size="49">B</tspan><tspan x="891.6" y="130.3" font-size="35">3</tspan><tspan x="911" y="143.6" font-size="49">Π</tspan></text>
<text class="a"><tspan x="549.5" y="1205.8" font-size="49">N</tspan><tspan x="586.2" y="1217.2" font-size="35">2</tspan><tspan x="604.3" y="1210.8" font-size="49">+ </tspan><tspan x="646.2" y="1205.8" font-size="49">B</tspan><tspan x="680.1" y="1193.8" font-size="35">2</tspan><tspan x="697.5" y="1205.8" font-size="49">Σ</tspan><tspan x="729" y="1193.8" font-size="35">+</tspan><tspan x="746.3" y="1217.2" font-size="35">U </tspan><tspan x="768.5" y="1205.2" font-size="75">→ </tspan><tspan x="844" y="1205.8" font-size="49">X</tspan><tspan x="880.4" y="1193.8" font-size="35">2</tspan><tspan x="897.7" y="1205.8" font-size="49">Σ</tspan><tspan x="929.2" y="1193.8" font-size="35">+</tspan><tspan x="945.7" y="1215.7" font-size="35">g</tspan></text>
<text class="a"><tspan x="1219.8" y="1364" font-size="49">N</tspan><tspan x="1256.8" y="1374.6" font-size="35">2 </tspan><tspan x="1287" y="1364" font-size="49">C</tspan><tspan x="1320.1" y="1348.1" font-size="35">3</tspan><tspan x="1336.3" y="1364" font-size="49">Π </tspan><tspan x="1373.3" y="1362.2" font-size="75">→ </tspan><tspan x="1448.6" y="1364" font-size="49">B</tspan><tspan x="1483.3" y="1348.1" font-size="35">3</tspan><tspan x="1499.4" y="1364" font-size="49">Π</tspan></text>
<text class="a"><tspan x="933" y="2381.5" font-size="49">N</tspan><tspan x="970.1" y="2392.5" font-size="30">2 </tspan><tspan x="999.7" y="2381.5" font-size="49">B</tspan><tspan x="1034.6" y="2365" font-size="30">3</tspan><tspan x="1050.6" y="2381.5" font-size="49">Π </tspan><tspan x="1086.4" y="2380.5" font-size="75">→ </tspan><tspan x="1162.7" y="2381.5" font-size="49">A</tspan><tspan x="1196.7" y="2365" font-size="30">3</tspan><tspan x="1212.1" y="2381.5" font-size="49">Σ</tspan></text>
<text class="a"><tspan x="1318.8" y="2305.6" font-size="51">N</tspan><tspan x="1355.9" y="2316.2" font-size="30">2 </tspan><tspan x="1384.3" y="2305.6" font-size="51">C</tspan><tspan x="1420.8" y="2305.6" font-size="51">`</tspan><tspan x="1434.6" y="2289.6" font-size="30">3</tspan><tspan x="1452.3" y="2305.6" font-size="51">Π</tspan><tspan x="1491.4" y="2316.2" font-size="30">U </tspan><tspan x="1513.5" y="2304.5" font-size="75">→ </tspan><tspan x="1588.4" y="2305.6" font-size="51">D</tspan><tspan x="1625.3" y="2289.6" font-size="30">3</tspan><tspan x="1641.7" y="2305.6" font-size="51">Π</tspan><tspan x="1677.5" y="2314.2" font-size="30">g</tspan></text>
<line x1="561.6" y1="114.4" x2="647.2" y2="636.8" stroke="#000" stroke-width="2.6"/>
<polygon points="650.8,659 635.1,638.8 659.3,634.8" fill="#000"/>
<line x1="675" y1="169" x2="695.7" y2="418.6" stroke="#000" stroke-width="2.6"/>
<polygon points="697.6,441 683.5,419.6 707.9,417.6" fill="#000"/>
<line x1="777.3" y1="1232" x2="753.9" y2="1421.1" stroke="#000" stroke-width="2.6"/>
<polygon points="751.1,1443.4 741.7,1419.6 766,1422.6" fill="#000"/>
<line x1="777.3" y1="1232" x2="788.2" y2="1445.9" stroke="#000" stroke-width="2.6"/>
<polygon points="789.3,1468.4 775.9,1446.5 800.4,1445.3" fill="#000"/>
<line x1="777.3" y1="1232" x2="825.9" y2="1606.7" stroke="#000" stroke-width="2.6"/>
<polygon points="828.8,1629 813.8,1608.3 838.1,1605.1" fill="#000"/>
<line x1="1224.4" y1="1396.6" x2="894.7" y2="1344.2" stroke="#000" stroke-width="2.6"/>
<polygon points="872.5,1340.7 896.6,1332.1 892.8,1356.3" fill="#000"/>
<line x1="1224.4" y1="1396.6" x2="953.1" y2="1654.2" stroke="#000" stroke-width="2.6"/>
<polygon points="936.8,1669.7 944.7,1645.3 961.6,1663.1" fill="#000"/>
<line x1="1224.4" y1="1396.6" x2="964.1" y2="1699.1" stroke="#000" stroke-width="2.6"/>
<polygon points="949.4,1716.2 954.8,1691.2 973.4,1707.1" fill="#000"/>
<line x1="1225.8" y1="2394.4" x2="1291" y2="2648.2" stroke="#000" stroke-width="2.6"/>
<polygon points="1296.6,2670 1279.1,2651.3 1302.9,2645.2" fill="#000"/>
<line x1="1225.8" y1="2394.4" x2="1408.6" y2="2645.8" stroke="#000" stroke-width="2.6"/>
<polygon points="1421.8,2664 1398.7,2653 1418.5,2638.6" fill="#000"/>
<line x1="1515.6" y1="2357.9" x2="1628.6" y2="2659.3" stroke="#000" stroke-width="2.6"/>
<polygon points="1636.5,2680.4 1617.1,2663.6 1640.1,2655" fill="#000"/>
</svg>
</body></html>
